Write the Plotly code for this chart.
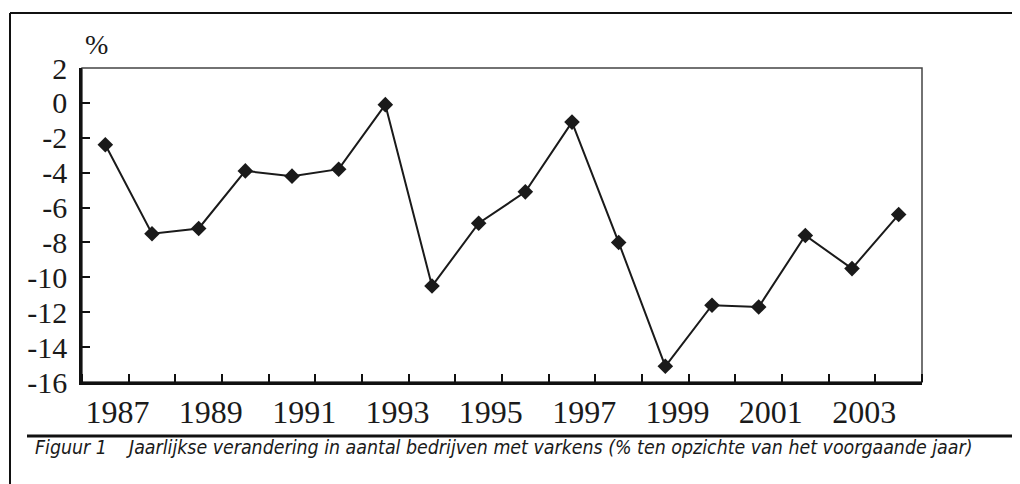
import plotly.graph_objects as go

years = list(range(1987, 2005))
change_pct = [-2.4, -7.5, -7.2, -3.9, -4.2, -3.8, -0.1, -10.5, -6.9, -5.1,
              -1.1, -8.0, -15.1, -11.6, -11.7, -7.6, -9.5, -6.4]
label_years = [1987, 1989, 1991, 1993, 1995, 1997, 1999, 2001, 2003]
y_ticks = list(range(-16, 3, 2))

caption_fig = "Figuur 1"
caption_text = "Jaarlijkse verandering in aantal bedrijven met varkens (% ten opzichte van het voorgaande jaar)"

serif = "Liberation Serif, Times New Roman, serif"
narrow = "Liberation Sans Narrow, DejaVu Sans Condensed, Arial Narrow, sans-serif"

fig = go.Figure()
fig.add_trace(go.Scatter(
    x=years, y=change_pct, mode="lines+markers",
    line=dict(color="#1a1a1a", width=2),
    marker=dict(symbol="diamond", size=12, color="#1a1a1a"),
    showlegend=False, hoverinfo="skip"))

# page body has an 8px margin: figure pixel = window pixel - 8
OFF = 8
W, H = 1012, 476
L, T = 82 - OFF, 68 - OFF
pw, ph = 840, 314
R, B = W - L - pw, H - T - ph

def px(x):
    return (x - OFF - L) / pw

def py(y):
    return (H - B - (y - OFF)) / ph

fig.update_layout(
    width=W, height=H,
    margin=dict(l=L, r=R, t=T, b=B),
    paper_bgcolor="white", plot_bgcolor="white",
    xaxis=dict(
        range=[1986.5, 2004.5],
        tickvals=[y + 0.26 for y in label_years],
        ticktext=[str(y) for y in label_years],
        ticks="", showgrid=False, zeroline=False,
        showline=True, linecolor="#111", linewidth=2.5,
        tickfont=dict(family=serif, size=32, color="#1a1a1a"),
        ticklabelstandoff=0,
        minor=dict(tick0=1986.5, dtick=1, ticks="inside", ticklen=8,
                   tickwidth=2, tickcolor="#111", showgrid=False),
    ),
    yaxis=dict(
        range=[-16, 2], tickvals=y_ticks,
        ticktext=[str(v) for v in y_ticks],
        ticks="inside", ticklen=8, tickwidth=2, tickcolor="#111",
        showgrid=False, zeroline=False,
        showline=True, linecolor="#111", linewidth=2.5,
        tickfont=dict(family=serif, size=30, color="#1a1a1a"),
        ticklabelstandoff=6,
    ),
    shapes=[
        dict(type="rect", xref="paper", yref="paper", x0=0, x1=1, y0=0, y1=1,
             line=dict(color="#444", width=1.5), layer="below"),
        dict(type="line", xref="paper", yref="paper", x0=px(10), x1=px(1020),
             y0=py(13), y1=py(13), line=dict(color="#111", width=2)),
        dict(type="line", xref="paper", yref="paper", x0=px(10), x1=px(10),
             y0=py(13), y1=py(484), line=dict(color="#111", width=2)),
        dict(type="line", xref="paper", yref="paper", x0=px(27), x1=px(1018),
             y0=py(436), y1=py(436), line=dict(color="#111", width=3)),
    ],
    annotations=[
        dict(text="%", xref="paper", yref="paper", x=px(96), y=py(44),
             xanchor="center", yanchor="middle", showarrow=False,
             font=dict(family=serif, size=28, color="#1a1a1a")),
        dict(text="<i>" + caption_fig + "</i>", xref="paper", yref="paper",
             x=px(33), y=py(447), xanchor="left", yanchor="middle", showarrow=False,
             font=dict(family=narrow, size=19.4, color="#1a1a1a")),
        dict(text="<i>" + caption_text + "</i>", xref="paper", yref="paper",
             x=px(124), y=py(447), xanchor="left", yanchor="middle", showarrow=False,
             font=dict(family=narrow, size=19.4, color="#1a1a1a")),
    ],
)

fig.write_html("out.html")
